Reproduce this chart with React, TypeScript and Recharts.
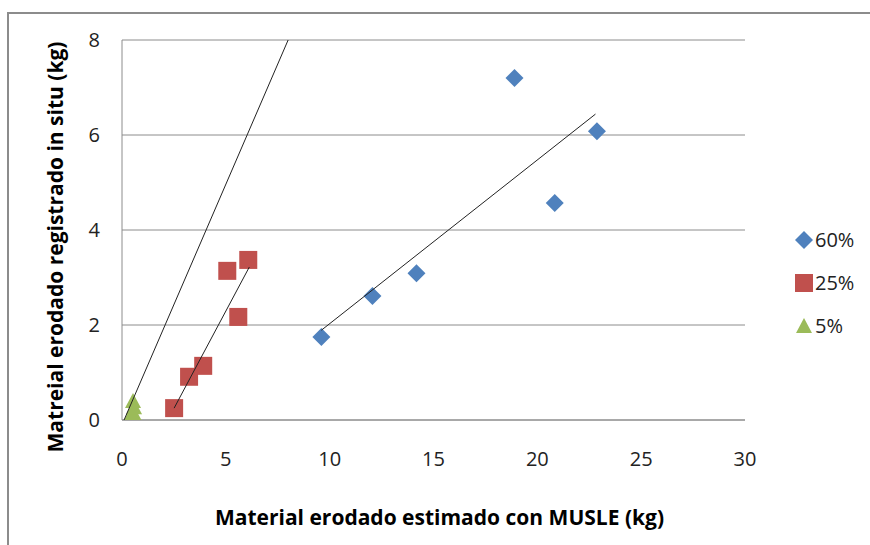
import { ScatterChart, Scatter, XAxis, YAxis, CartesianGrid, Legend, Label } from "recharts";

const xTicks = [0, 5, 10, 15, 20, 25, 30];
const yTicks = [0, 2, 4, 6, 8];

const blue60 = [
  { x: 9.6, y: 1.75 },
  { x: 12.06, y: 2.61 },
  { x: 14.18, y: 3.09 },
  { x: 18.9, y: 7.2 },
  { x: 20.84, y: 4.57 },
  { x: 22.87, y: 6.08 },
];

const red25 = [
  { x: 2.51, y: 0.25 },
  { x: 3.23, y: 0.91 },
  { x: 3.91, y: 1.14 },
  { x: 5.07, y: 3.14 },
  { x: 5.6, y: 2.17 },
  { x: 6.08, y: 3.37 },
];

const green5 = [
  { x: 0.3, y: 0.0 },
  { x: 0.45, y: 0.1 },
  { x: 0.55, y: 0.15 },
  { x: 0.58, y: 0.27 },
  { x: 0.53, y: 0.4 },
];

// trendlines, endpoints
const blueTrend = [
  { x: 9.6, y: 1.89 },
  { x: 22.8, y: 6.44 },
];
const redTrend = [
  { x: 2.51, y: 0.25 },
  { x: 6.13, y: 3.22 },
];
const greenTrend = [
  { x: 0.1, y: 0.0 },
  { x: 8.0, y: 8.0 },
];

const seriesOrder = ["60%", "25%", "5%"];

const BLUE = "#4F81BD";
const RED = "#C0504D";
const GREEN = "#9BBB59";
const FONT = "'Open Sans', 'Noto Sans', sans-serif";

const Diamond = ({ cx, cy, fill }: any) => (
  <polygon points={`${cx},${cy - 9} ${cx + 9},${cy} ${cx},${cy + 9} ${cx - 9},${cy}`} fill={fill} />
);
const Square = ({ cx, cy, fill }: any) => <rect x={cx - 9} y={cy - 9} width={18} height={18} fill={fill} />;
const Triangle = ({ cx, cy, fill }: any) => (
  <polygon points={`${cx},${cy - 8} ${cx + 8},${cy + 7} ${cx - 8},${cy + 7}`} fill={fill} />
);
const NoDot = () => <g />;

const markers: Record<string, any> = { "60%": Diamond, "25%": Square, "5%": Triangle };

function LegendBox({ payload }: any) {
  const items = (payload || [])
    .filter((p: any) => markers[p.value])
    .sort((a: any, b: any) => seriesOrder.indexOf(a.value) - seriesOrder.indexOf(b.value));
  return (
    <div style={{ fontFamily: FONT, fontSize: 20, color: "#222" }}>
      {items.map((p: any) => {
        const M = markers[p.value];
        return (
          <div key={p.value} style={{ display: "flex", alignItems: "center", height: 43 }}>
            <svg width={22} height={22}>
              <M cx={11} cy={11} fill={p.color} />
            </svg>
            <span>{p.value}</span>
          </div>
        );
      })}
    </div>
  );
}

const titleStyle = { fontFamily: FONT, fontSize: 21, fontWeight: 700, fill: "#000" };

export default function App() {
  return (
    <div style={{ position: "absolute", left: 0, top: 0, width: 870, height: 545, overflow: "hidden", background: "#fff" }}>
      <div
        style={{
          position: "absolute",
          left: 7,
          top: 12,
          width: 900,
          height: 600,
          border: "2px solid #8c8c8c",
        }}
      />
      <ScatterChart
        width={870}
        height={545}
        margin={{ top: 40, right: 45, bottom: 25, left: 22 }}
        style={{ position: "absolute", left: 0, top: 0 }}
      >
        <CartesianGrid vertical={false} stroke="#8c8c8c" strokeWidth={1} />
        <XAxis
          type="number"
          dataKey="x"
          domain={[0, 30]}
          ticks={xTicks}
          height={100}
          tickSize={0}
          tickMargin={32}
          axisLine={{ stroke: "#8c8c8c" }}
          tick={{ fill: "#222", fontSize: 20, fontFamily: FONT }}
        >
          <Label
            content={({ viewBox }: any) => {
              const x = viewBox.x + viewBox.width / 2 + 6;
              const y = viewBox.y + 97;
              return (
                <text x={x} y={y} textAnchor="middle" dominantBaseline="central" style={titleStyle}>
                  Material erodado estimado con MUSLE (kg)
                </text>
              );
            }}
          />
        </XAxis>
        <YAxis
          type="number"
          dataKey="y"
          domain={[0, 8]}
          ticks={yTicks}
          width={100}
          tickSize={0}
          tickMargin={22}
          allowDataOverflow
          axisLine={{ stroke: "#8c8c8c" }}
          tick={{ fill: "#222", fontSize: 20, fontFamily: FONT }}
        >
          <Label
            content={({ viewBox }: any) => {
              const x = viewBox.x + 33;
              const y = viewBox.y + viewBox.height / 2 + 17;
              return (
                <text
                  x={x}
                  y={y}
                  transform={`rotate(-90 ${x} ${y})`}
                  textAnchor="middle"
                  dominantBaseline="central"
                  style={titleStyle}
                >
                  Matreial erodado registrado in situ (kg)
                </text>
              );
            }}
          />
        </YAxis>
        <Legend
          layout="vertical"
          align="right"
          verticalAlign="middle"
          content={LegendBox}
          wrapperStyle={{ left: 793, top: 218, width: 80 }}
        />
        <Scatter name="60%" data={blue60} fill={BLUE} shape={Diamond} isAnimationActive={false} />
        <Scatter name="25%" data={red25} fill={RED} shape={Square} isAnimationActive={false} />
        <Scatter name="5%" data={green5} fill={GREEN} shape={Triangle} isAnimationActive={false} />
        <Scatter
          name="trend60"
          data={blueTrend}
          line={{ stroke: "#222", strokeWidth: 1 }}
          shape={NoDot}
          legendType="none"
          isAnimationActive={false}
        />
        <Scatter
          name="trend25"
          data={redTrend}
          line={{ stroke: "#222", strokeWidth: 1 }}
          shape={NoDot}
          legendType="none"
          isAnimationActive={false}
        />
        <Scatter
          name="trend5"
          data={greenTrend}
          line={{ stroke: "#222", strokeWidth: 1 }}
          shape={NoDot}
          legendType="none"
          isAnimationActive={false}
        />
      </ScatterChart>
    </div>
  );
}
